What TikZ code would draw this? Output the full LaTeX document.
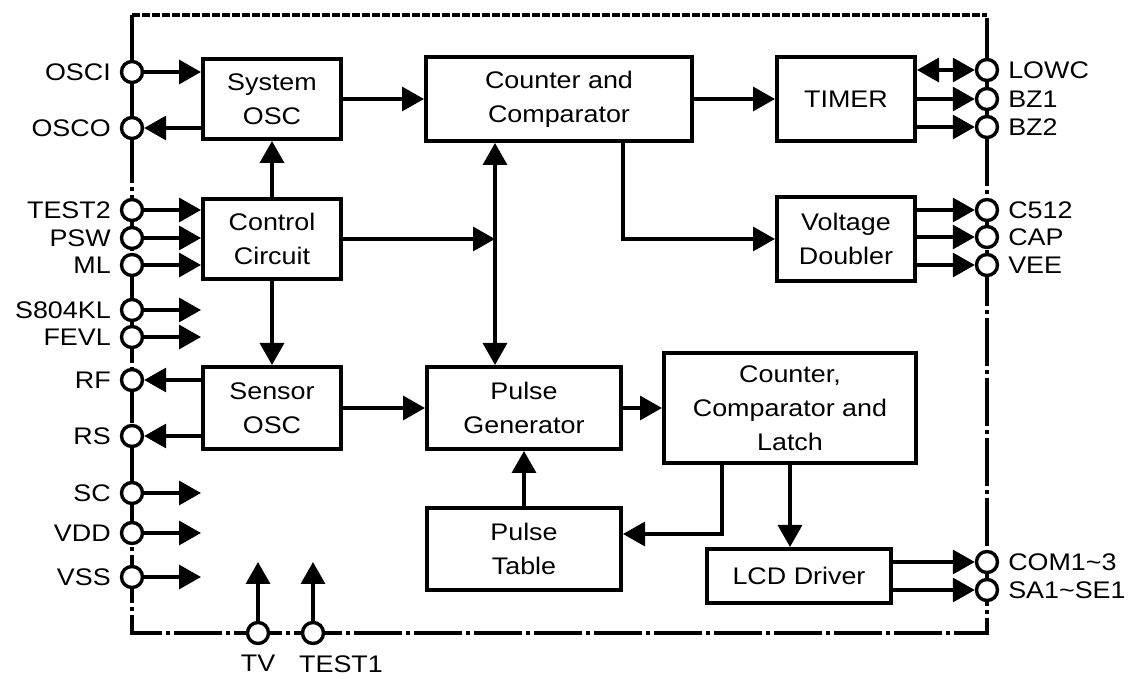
\documentclass[tikz,border=0pt]{standalone}
\usepackage{fontspec}
\setmainfont{Liberation Sans}[FakeStretch=1.12]
\usetikzlibrary{arrows.meta}

\tikzset{
  block/.style = {draw, line width=2pt, align=center, inner sep=2pt},
  iopad/.style = {circle, draw, fill=white, line width=1.7pt, minimum size=10.5pt, inner sep=0pt},
  arr/.style   = {-{Triangle[length=11pt,width=12pt]}, line width=1.7pt},
  biarr/.style = {{Triangle[length=11pt,width=12pt]}-{Triangle[length=11pt,width=12pt]}, line width=1.7pt},
  frame/.style = {line width=1.7pt},
}

\begin{document}
\begin{tikzpicture}[x=0.5pt, y=-0.5pt, font=\fontsize{12}{17}\selectfont, label distance=1pt]
   \useasboundingbox (0,0) rectangle (1132,679);
   % chip outline
   \draw[frame, dash pattern=on 4pt off 1pt] (132,15) -- (987,15);
   \draw[frame, dash pattern=on 24pt off 2pt on 2pt off 2pt] (132,15) -- (132,633) -- (987,633) -- (987,15);

   % blocks
   \node[block, minimum width=69pt, minimum height=40pt] (sysosc) at (272,99) {System\\OSC};
   \node[block, minimum width=69pt, minimum height=40pt] (ctrl) at (272,239) {Control\\Circuit};
   \node[block, minimum width=69pt, minimum height=41pt] (sensor) at (272,408) {Sensor\\OSC};
   \node[block, minimum width=133pt, minimum height=42pt] (cntcmp) at (559,99) {Counter and\\Comparator};
   \node[block, minimum width=69pt, minimum height=42pt] (timer) at (846,99) {TIMER};
   \node[block, minimum width=69pt, minimum height=42pt] (vdbl) at (846,239) {Voltage\\Doubler};
   \node[block, minimum width=97pt, minimum height=41pt] (pgen) at (524,408) {Pulse\\Generator};
   \node[block, minimum width=126pt, minimum height=55pt] (ccl) at (790,408) {Counter,\\Comparator and\\Latch};
   \node[block, minimum width=97pt, minimum height=41pt] (ptab) at (524,549) {Pulse\\Table};
   \node[block, minimum width=92pt, minimum height=27pt] (lcd) at (799,576) {LCD Driver};

   % left pins
   \node[iopad, label={left:OSCI}] (osci) at (132,72) {};
   \node[iopad, label={left:OSCO}] (osco) at (132,128) {};
   \node[iopad, label={left:TEST2}] (test2) at (132,210) {};
   \node[iopad, label={left:PSW}] (psw) at (132,238) {};
   \node[iopad, label={left:ML}] (ml) at (132,265) {};
   \node[iopad, label={left:S804KL}] (s804kl) at (132,310) {};
   \node[iopad, label={left:FEVL}] (fevl) at (132,337) {};
   \node[iopad, label={left:RF}] (rf) at (132,380) {};
   \node[iopad, label={left:RS}] (rs) at (132,436) {};
   \node[iopad, label={left:SC}] (sc) at (132,493) {};
   \node[iopad, label={left:VDD}] (vdd) at (132,533) {};
   \node[iopad, label={left:VSS}] (vss) at (132,577) {};

   % bottom pins
   \node[iopad, label={[yshift=-0.5pt]below:TV}] (tv) at (258,633) {};
   \node[iopad, label={[xshift=14pt, yshift=-0.5pt]below:TEST1}] (test1) at (313,633) {};

   % right pins
   \node[iopad, label={right:LOWC}] (lowc) at (987,70) {};
   \node[iopad, label={right:BZ1}] (bz1) at (987,99) {};
   \node[iopad, label={right:BZ2}] (bz2) at (987,127) {};
   \node[iopad, label={right:C512}] (c512) at (987,210) {};
   \node[iopad, label={right:CAP}] (cap) at (987,237) {};
   \node[iopad, label={right:VEE}] (vee) at (987,265) {};
   \node[iopad, label={right:COM1\textasciitilde 3}] (com) at (987,562) {};
   \node[iopad, label={right:SA1\textasciitilde SE1}] (seg) at (987,590) {};

   \coordinate (bus) at (495,239);
   \coordinate (lbend) at (722,534);

   % pin connections
   \draw[arr] (osci) -- (osci -| sysosc.west);
   \draw[arr] (sysosc.west |- osco) -- (osco);
   \draw[arr] (test2) -- (test2 -| ctrl.west);
   \draw[arr] (psw) -- (psw -| ctrl.west);
   \draw[arr] (ml) -- (ml -| ctrl.west);
   \draw[arr] (s804kl) -- (s804kl -| ctrl.west);
   \draw[arr] (fevl) -- (fevl -| ctrl.west);
   \draw[arr] (sensor.west |- rf) -- (rf);
   \draw[arr] (sensor.west |- rs) -- (rs);
   \draw[arr] (sc) -- (sc -| ctrl.west);
   \draw[arr] (vdd) -- (vdd -| ctrl.west);
   \draw[arr] (vss) -- (vss -| ctrl.west);
   \draw[arr] (tv) -- (tv |- com);
   \draw[arr] (test1) -- (test1 |- com);
   \draw[biarr] (timer.east |- lowc) -- (lowc);
   \draw[arr] (timer.east |- bz1) -- (bz1);
   \draw[arr] (timer.east |- bz2) -- (bz2);
   \draw[arr] (vdbl.east |- c512) -- (c512);
   \draw[arr] (vdbl.east |- cap) -- (cap);
   \draw[arr] (vdbl.east |- vee) -- (vee);
   \draw[arr] (lcd.east |- com) -- (com);
   \draw[arr] (lcd.east |- seg) -- (seg);

   % internal connections
   \draw[arr] (ctrl) -- (sysosc);
   \draw[arr] (ctrl) -- (sensor);
   \draw[arr] (sysosc) -- (cntcmp);
   \draw[arr] (cntcmp) -- (timer);
   \draw[arr] (ctrl) -- (bus);
   \draw[arr] (bus) -- (bus |- cntcmp.south);
   \draw[arr] (bus) -- (bus |- pgen.north);
   \draw[arr] (cntcmp.south -| pgen.east) |- (vdbl);
   \draw[arr] (sensor) -- (pgen);
   \draw[arr] (pgen) -- (ccl);
   \draw[arr] (ptab) -- (pgen);
   \draw[arr] (ccl.south -| lbend) -- (lbend) -- (lbend -| ptab.east);
   \draw[arr] (ccl.south) -- (lcd.north -| ccl.south);
\end{tikzpicture}
\end{document}
